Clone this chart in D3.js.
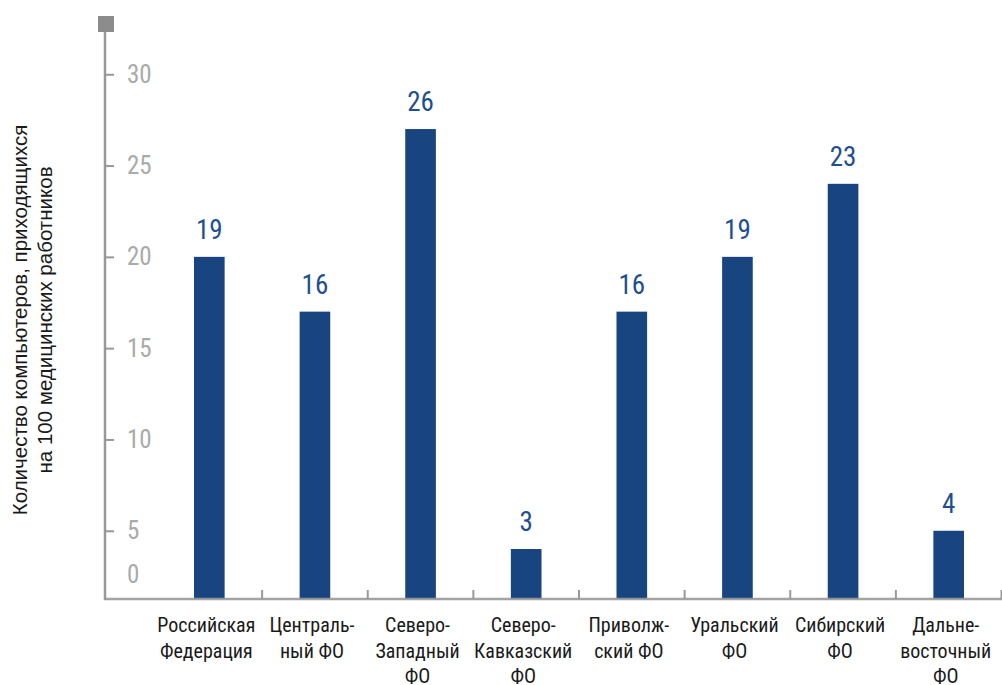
<!DOCTYPE html>
<html lang="ru">
<head>
<meta charset="utf-8">
<script src="https://cdn.jsdelivr.net/npm/d3@7"></script>
<style>
  html, body { margin: 0; padding: 0; background: #ffffff; }
  svg { display: block; }
  text { font-family: "Liberation Sans Narrow", "Roboto Condensed", "Arial Narrow", Roboto, sans-serif; }
  text.ytitle { font-family: "Liberation Sans", Arial, sans-serif; }
</style>
</head>
<body>
<svg id="chart" width="1002" height="685"></svg>
<script>
// Федеральные округа (подписи по строкам)
const categories = [
  ["Российская", "Федерация"],
  ["Централь-", "ный ФО"],
  ["Северо-", "Западный", "ФО"],
  ["Северо-", "Кавказский", "ФО"],
  ["Приволж-", "ский ФО"],
  ["Уральский", "ФО"],
  ["Сибирский", "ФО"],
  ["Дальне-", "восточный", "ФО"]
];
// Компьютеров на 100 медицинских работников
const values = [19, 16, 26, 3, 16, 19, 23, 4];
// Подписи шкалы
const tickValues = [5, 10, 15, 20, 25, 30];
const zeroLabel = "0";
const yTitle = ["Количество компьютеров, приходящихся", "на 100 медицинских работников"];

const svg = d3.select("#chart");
const axisColor = "#999999";
const barColor = "#18457f";
const valueColor = "#1f4f8e";

const axisX = 105;      // вертикальная ось
const baseY = 599;      // горизонтальная ось

const x = d3.scaleBand()
  .domain(d3.range(values.length))
  .range([156.5, 1001.5])
  .paddingInner(0.71)
  .paddingOuter(0.355);

const y = d3.scaleLinear().domain([0, 30]).range([603.8, 56]);
// шкала делений смещена на одну единицу относительно столбцов
const yTicks = y.copy().domain([1, 31]);

// область построения, обрезанная по горизонтальной оси
svg.append("clipPath").attr("id", "plot-clip")
  .append("rect").attr("x", axisX).attr("y", 0).attr("width", 1002 - axisX).attr("height", baseY);

svg.append("g").attr("clip-path", "url(#plot-clip)")
  .selectAll("rect.bar")
  .data(values)
  .join("rect")
  .attr("class", "bar")
  .attr("x", (d, i) => x(i))
  .attr("width", x.bandwidth())
  .attr("y", d => y(d))
  .attr("height", d => y(0) - y(d))
  .attr("fill", barColor);

// значения над столбцами
svg.append("g").selectAll("text.value")
  .data(values)
  .join("text")
  .attr("class", "value")
  .attr("x", (d, i) => x(i) + x.bandwidth() / 2)
  .attr("y", d => y(d) - 18)
  .attr("text-anchor", "middle")
  .attr("font-size", 27)
  .attr("fill", valueColor)
  .text(d => d);

// вертикальная ось
const yAxis = d3.axisRight(yTicks)
  .tickValues(tickValues)
  .tickSize(9)
  .tickPadding(13)
  .tickFormat(d3.format("d"));

const gy = svg.append("g").attr("transform", `translate(${axisX},0)`).call(yAxis);
gy.select(".domain").remove();
gy.selectAll(".tick line").attr("stroke", axisColor).attr("stroke-width", 2);
gy.selectAll(".tick text")
  .attr("fill", "#aaaaaa")
  .attr("font-size", 25)
  .attr("font-family", null);

svg.append("line")
  .attr("x1", axisX).attr("x2", axisX)
  .attr("y1", 30).attr("y2", baseY + 1)
  .attr("stroke", axisColor).attr("stroke-width", 2.5);

svg.append("rect")
  .attr("x", 98).attr("y", 16).attr("width", 16).attr("height", 16)
  .attr("fill", "#8c8c8c");

svg.append("text")
  .attr("x", axisX + 22).attr("y", 575)
  .attr("dy", "0.32em")
  .attr("font-size", 25)
  .attr("fill", "#aaaaaa")
  .text(zeroLabel);

// горизонтальная ось с делениями между округами
const tickX = d3.range(1, values.length + 1).map(i => x(i - 1) + x.bandwidth() / 2 + x.step() / 2);

svg.append("g").selectAll("line.xtick")
  .data(tickX)
  .join("line")
  .attr("class", "xtick")
  .attr("x1", d => d).attr("x2", d => d)
  .attr("y1", baseY - 9).attr("y2", baseY)
  .attr("stroke", axisColor).attr("stroke-width", 2);

svg.append("line")
  .attr("x1", axisX - 1).attr("x2", 1002)
  .attr("y1", baseY).attr("y2", baseY)
  .attr("stroke", axisColor).attr("stroke-width", 2.5)
  .attr("stroke-opacity", 0.9);

// подписи округов
const catG = svg.append("g").selectAll("text.cat")
  .data(categories)
  .join("text")
  .attr("class", "cat")
  .attr("text-anchor", "middle")
  .attr("font-size", 20)
  .attr("fill", "#1a1a1a")
  .attr("transform", (d, i) => `translate(${x(i) + x.bandwidth() / 2 - 3},632)`);

catG.selectAll("tspan")
  .data(d => d)
  .join("tspan")
  .attr("x", 0)
  .attr("dy", (d, i) => i === 0 ? 0 : 25.5)
  .text(d => d);

// подпись вертикальной оси
svg.append("text")
  .attr("class", "ytitle")
  .attr("transform", "translate(27,320) rotate(-90)")
  .attr("text-anchor", "middle")
  .attr("font-size", 20.5)
  .attr("fill", "#1a1a1a")
  .selectAll("tspan")
  .data(yTitle)
  .join("tspan")
  .attr("x", 0)
  .attr("dy", (d, i) => i === 0 ? 0 : 25)
  .text(d => d);
</script>
</body>
</html>
